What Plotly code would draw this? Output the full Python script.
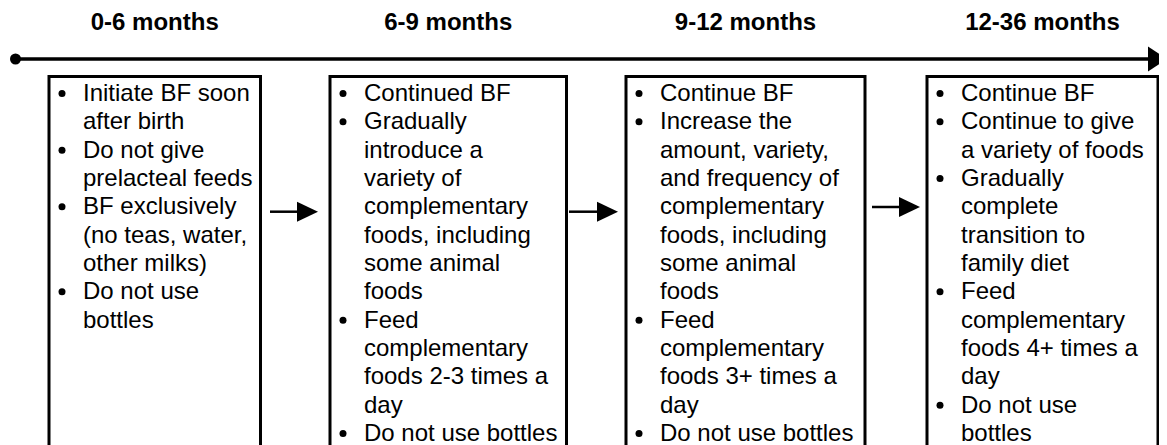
import plotly.graph_objects as go

# ---- data ----
stages = ["0-6 months", "6-9 months", "9-12 months", "12-36 months"]

box1_items = [
    ["Initiate BF soon", "after birth"],
    ["Do not give", "prelacteal feeds"],
    ["BF exclusively", "(no teas, water,", "other milks)"],
    ["Do not use", "bottles"],
]
box2_items = [
    ["Continued BF"],
    ["Gradually", "introduce a", "variety of", "complementary", "foods, including", "some animal", "foods"],
    ["Feed", "complementary", "foods 2-3 times a", "day"],
    ["Do not use bottles"],
]
box3_items = [
    ["Continue BF"],
    ["Increase the", "amount, variety,", "and frequency of", "complementary", "foods, including", "some animal", "foods"],
    ["Feed", "complementary", "foods 3+ times a", "day"],
    ["Do not use bottles"],
]
box4_items = [
    ["Continue BF"],
    ["Continue to give", "a variety of foods"],
    ["Gradually", "complete", "transition to", "family diet"],
    ["Feed", "complementary", "foods 4+ times a", "day"],
    ["Do not use", "bottles"],
]
boxes = [box1_items, box2_items, box3_items, box4_items]

# ---- layout constants ----
W, H = 1167, 445
PAGE_OFF = 8  # default body margin of the html page
FONT = "Liberation Sans, Arial, sans-serif"
FS = 24
BOX_LEFT = [49, 330, 626, 927]
BOX_RIGHT = [260.5, 566.5, 865, 1158]
BOX_TOP = 76.5
FIRST_BASE = 101
LINE_H = 28.33
TITLE_BASE = 30
TL_Y = 59
ARROWS = [(270, 318, 211.7), (569, 618, 211.7), (872, 920, 207)]

shapes = []
# timeline
shapes.append(dict(type="line", x0=15, x1=1150, y0=TL_Y, y1=TL_Y,
                   line=dict(color="black", width=3.5), xref="x", yref="y"))
shapes.append(dict(type="path", path=f"M 1148 {TL_Y-12.5} L 1148 {TL_Y+12.5} L 1167 {TL_Y} Z",
                   fillcolor="black", line=dict(color="black", width=0), xref="x", yref="y"))
shapes.append(dict(type="circle", x0=10, x1=21, y0=TL_Y-5.5, y1=TL_Y+5.5,
                   fillcolor="black", line=dict(color="black", width=0), xref="x", yref="y"))
# boxes
for l, r in zip(BOX_LEFT, BOX_RIGHT):
    shapes.append(dict(type="rect", x0=l, x1=r, y0=BOX_TOP, y1=H + 40,
                       line=dict(color="black", width=3), fillcolor="rgba(0,0,0,0)",
                       xref="x", yref="y"))
# small arrows
for x0, x1, y in ARROWS:
    shapes.append(dict(type="line", x0=x0, x1=x1 - 20, y0=y, y1=y,
                       line=dict(color="black", width=2.5), xref="x", yref="y"))
    shapes.append(dict(type="path", path=f"M {x1-21} {y-10} L {x1-21} {y+10} L {x1} {y} Z",
                       fillcolor="black", line=dict(color="black", width=0), xref="x", yref="y"))

fig = go.Figure()

# titles
tx = [(l + r) / 2 for l, r in zip(BOX_LEFT, BOX_RIGHT)]
fig.add_trace(go.Scatter(
    x=tx, y=[TITLE_BASE - 0.25 * FS] * len(stages), text=stages, mode="text",
    textposition="middle center",
    textfont=dict(family=FONT, size=FS, color="black", weight="bold"),
    hoverinfo="skip", showlegend=False))

# body text and bullets
lx, ly, lt, bx, by = [], [], [], [], []
for items, left in zip(boxes, BOX_LEFT):
    k = 0
    for item in items:
        for j, line in enumerate(item):
            base = FIRST_BASE + k * LINE_H
            if j == 0:
                bx.append(left + 13)
                by.append(base - 7.5)
            lx.append(left + 34)
            ly.append(base - 0.25 * FS)
            lt.append(line)
            k += 1

fig.add_trace(go.Scatter(
    x=lx, y=ly, text=lt, mode="text", textposition="middle right",
    textfont=dict(family=FONT, size=FS, color="black"),
    hoverinfo="skip", showlegend=False, cliponaxis=False))
fig.add_trace(go.Scatter(
    x=bx, y=by, mode="markers",
    marker=dict(symbol="circle", size=7, color="black", line=dict(width=0)),
    hoverinfo="skip", showlegend=False))

fig.update_layout(
    width=W, height=H,
    margin=dict(l=0, r=0, t=0, b=0),
    paper_bgcolor="white", plot_bgcolor="white",
    xaxis=dict(range=[PAGE_OFF, W + PAGE_OFF], visible=False, fixedrange=True),
    yaxis=dict(range=[H + PAGE_OFF, PAGE_OFF], visible=False, fixedrange=True),
    shapes=shapes,
    showlegend=False,
)

fig.write_html("out.html")
